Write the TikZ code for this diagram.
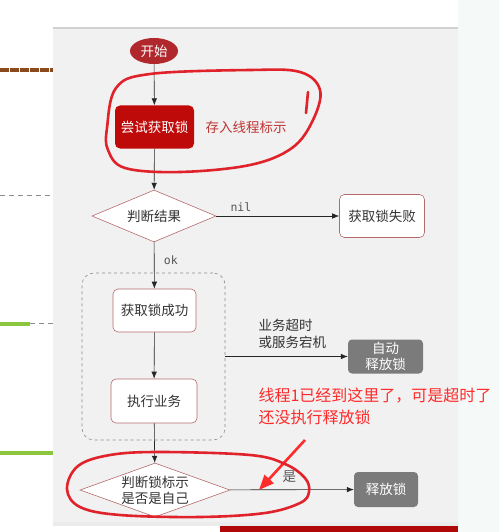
\documentclass[tikz,border=0pt]{standalone}
\usepackage{fontspec}
\newfontfamily\cjk{Noto Sans CJK SC}
\newfontfamily\mono{DejaVu Sans Mono}
\usetikzlibrary{shapes.geometric,arrows.meta}

\definecolor{panel}{HTML}{F1F1F1}
\definecolor{startred}{HTML}{B0282C}
\definecolor{tryred}{HTML}{BF0A0A}
\definecolor{storered}{HTML}{C03434}
\definecolor{boxedge}{HTML}{B46A6A}
\definecolor{boxgray}{HTML}{7B7B7B}
\definecolor{ink}{HTML}{333333}
\definecolor{labelgray}{HTML}{555555}
\definecolor{pen}{HTML}{E0222A}
\definecolor{note}{HTML}{FF2A2A}
\definecolor{sidebg}{HTML}{F5FAF9}
\definecolor{barred}{HTML}{B00808}
\definecolor{brownmark}{HTML}{8B4A1E}
\definecolor{greenmark}{HTML}{8CC63F}

\tikzset{
  txt/.style={font=\cjk\fontsize{13.5}{17}\selectfont},
  stepbox/.style={txt, draw=boxedge, fill=white, rounded corners=5pt, line width=0.6pt,
    text=ink, inner sep=0pt},
  graybox/.style={txt, fill=boxgray, rounded corners=4pt, text=white, inner sep=0pt, align=center},
  decision/.style={txt, diamond, draw=boxedge, fill=white, line width=0.6pt, text=ink,
    inner sep=0pt, align=center},
  flow/.style={-{Latex[length=7pt,width=5.5pt]}, line width=0.6pt, draw=black!85},
  monolabel/.style={font=\mono\fontsize{11.5}{14}\selectfont, text=labelgray},
  handpen/.style={draw=pen, line width=2.6pt, line cap=round, line join=round},
}

\begin{document}
\begin{tikzpicture}[x=1pt,y=-1pt]
\useasboundingbox (0,0) rectangle (499,532);

% page background, side strip and diagram panel
\fill[white] (0,0) rectangle (499,532);
\fill[sidebg] (458,0) rectangle (499,532);
\fill[panel] (53,28) rectangle (458,522);
\draw[black!18, line width=1.2pt] (53,28) -- (458,28);
\fill[black!8] (53,522) rectangle (458,526);
\fill[barred] (220,526) rectangle (458,532);

% markers on the left margin
\draw[brownmark, line width=4pt, dash pattern=on 9pt off 1pt] (0,70) -- (53,70);
\draw[black!45, line width=0.7pt, dash pattern=on 5pt off 4pt] (0,195) -- (53,195);
\draw[greenmark, line width=4pt] (0,324) -- (30,324);
\draw[black!45, line width=0.7pt, dash pattern=on 5pt off 4pt] (30,323) -- (53,323);
\draw[greenmark, line width=4pt] (0,453) -- (53,453);

% flowchart nodes
\node[ellipse, fill=startred, text=white, txt, minimum width=48pt, minimum height=26pt, inner sep=0pt]
  (start) at (154,51) {开始};
\node[txt, fill=tryred, text=white, rounded corners=5pt, minimum width=79pt, minimum height=43pt, inner sep=0pt]
  (try) at (154.5,127) {尝试获取锁};
\node[txt, text=storered, anchor=west] (store) at (202,127) {存入线程标示};

\node[decision, aspect=2.4, minimum width=124pt, minimum height=52pt] (judge) at (154,216) {判断结果};
\node[stepbox, minimum width=85pt, minimum height=43pt] (fail) at (382,216) {获取锁失败};

\node[draw=black!45, dashed, line width=0.6pt, rounded corners=12pt, minimum width=143pt,
  minimum height=167pt] (group) at (153.5,356.5) {};
\node[stepbox, minimum width=83pt, minimum height=43pt] (ok) at (154.5,310.5) {获取锁成功};
\node[stepbox, minimum width=86pt, minimum height=44pt] (work) at (154,401) {执行业务};
\node[graybox, minimum width=75pt, minimum height=34pt, font=\cjk\fontsize{13.5}{16}\selectfont]
  (auto) at (385.5,356.5) {自动\\释放锁};

\node[decision, aspect=2.78, minimum width=150pt, minimum height=54pt,
  font=\cjk\fontsize{13.5}{16}\selectfont] (mine) at (155,490) {判断锁标示\\是否是自己};
\node[graybox, minimum width=64pt, minimum height=35pt] (release) at (386,489.5) {释放锁};

% connectors
\draw[flow] (start) -- (try);
\draw[flow] (try) -- (judge);
\draw[flow] (judge) -- (fail) node[pos=0.2, above=1pt, monolabel] {nil};
\draw[flow] (judge) -- (ok) node[pos=0.38, right=6pt, monolabel] {ok};
\draw[flow] (ok) -- (work);
\draw[flow] (work) -- (mine);
\draw[flow] (group.east) -- (auto);
\draw[flow] (mine) -- (release) node[pos=0.48, above=3pt, txt, text=labelgray] {是};

\node[txt, text=ink, anchor=north west, align=left] (timeout) at (255,316) {业务超时\\或服务宕机};

% remark written over the chart
\node[font=\cjk\fontsize{16}{22}\selectfont, text=note, anchor=west, align=left] (remark) at (255,406)
  {线程1已经到这里了，可是超时了\\还没执行释放锁};
\coordinate (penA) at (305,440);
\coordinate (penB) at (259,490);
\draw[note, line width=2.6pt, -{Triangle[length=15pt,width=12pt]}] (penA) -- (penB);

% hand-drawn loops
\draw[handpen] plot[smooth cycle, tension=0.6] coordinates {
  (107,128) (116,88) (150,74) (250,70) (300,72) (320,90) (313,120) (292,148)
  (250,165) (180,172) (125,168) (108,150)};
\draw[handpen] (308,92) -- (306,113);
\draw[handpen] plot[smooth cycle, tension=0.6] coordinates {
  (160,452) (250,455) (285,464) (305,478) (309,492) (300,503) (265,513)
  (200,517) (120,515) (80,507) (67,489) (78,466) (110,455)};
\end{tikzpicture}
\end{document}
